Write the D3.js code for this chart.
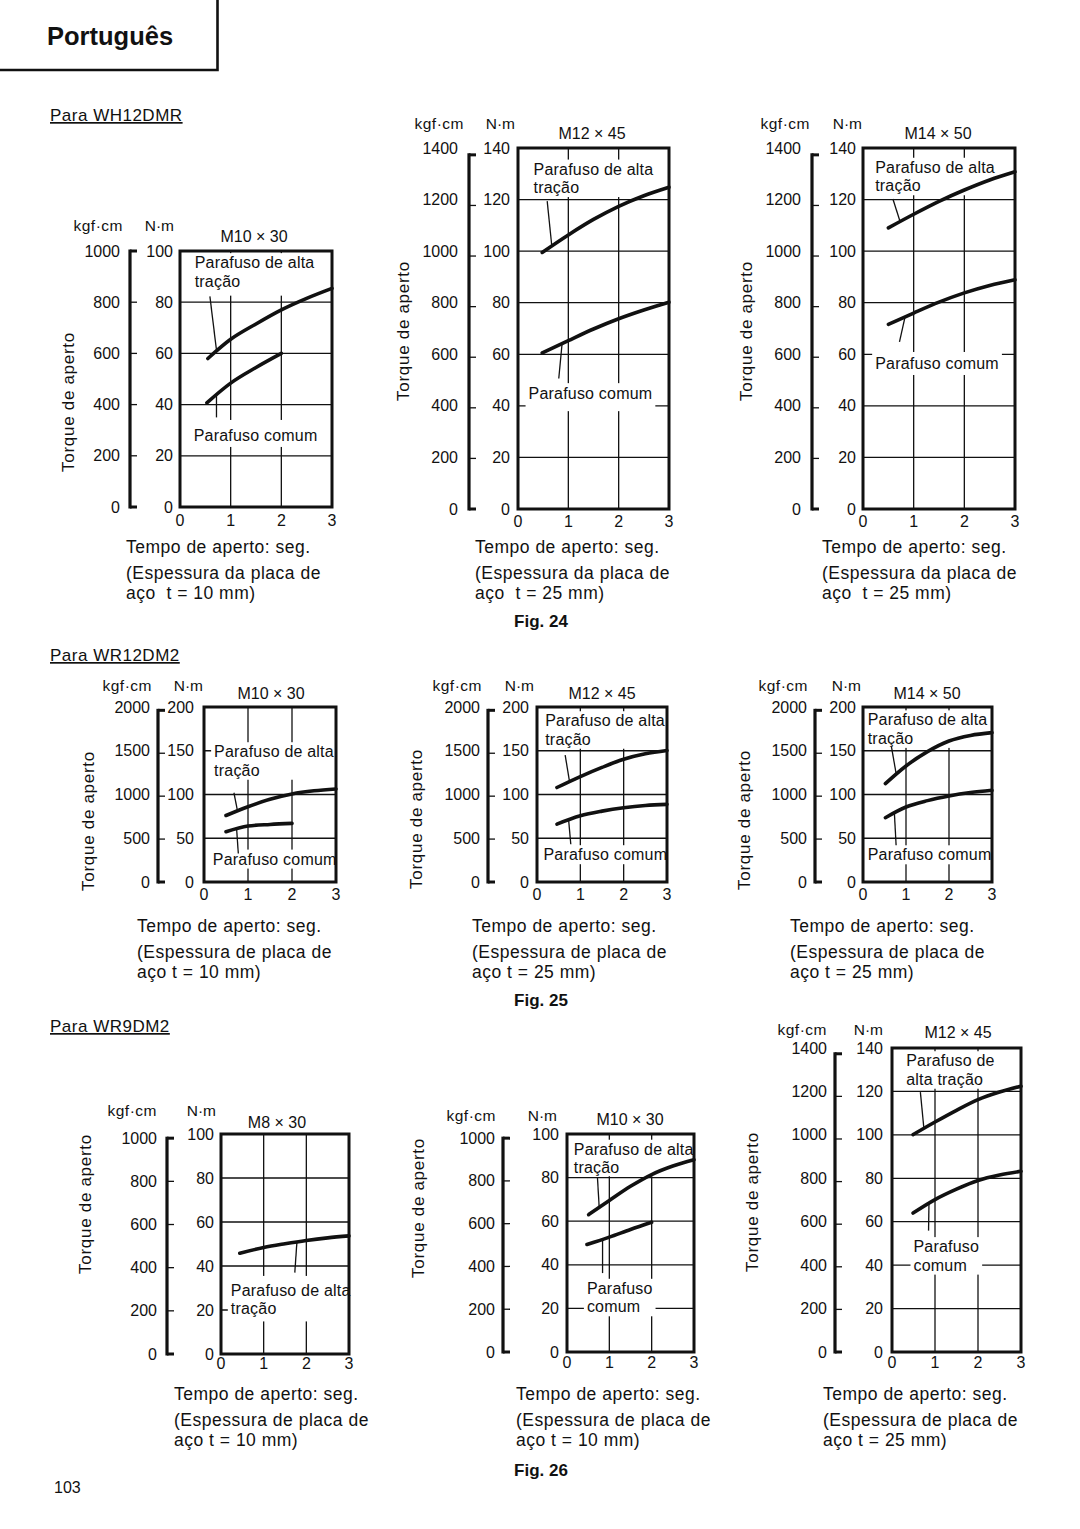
<!DOCTYPE html>
<html><head><meta charset="utf-8">
<script src="https://cdn.jsdelivr.net/npm/d3@7"></script>
<style>
html,body{margin:0;padding:0;background:#fff;}
svg{display:block;font-family:"Liberation Sans",Arial,Helvetica,sans-serif;}
text{white-space:pre;}
</style></head><body>
<svg id="page" width="1080" height="1529"></svg>
<script>
// ---------------- DATA ----------------
const xTicks = [0, 1, 2, 3];
const nmTicks100 = [0, 20, 40, 60, 80, 100];
const kgfTicks1000 = [0, 200, 400, 600, 800, 1000];
const nmTicks140 = [0, 20, 40, 60, 80, 100, 120, 140];
const kgfTicks1400 = [0, 200, 400, 600, 800, 1000, 1200, 1400];
const nmTicks200 = [0, 50, 100, 150, 200];
const kgfTicks2000 = [0, 500, 1000, 1500, 2000];

const boltTitles = ["M10 \u00d7 30", "M12 \u00d7 45", "M14 \u00d7 50",
                    "M10 \u00d7 30", "M12 \u00d7 45", "M14 \u00d7 50",
                    "M8 \u00d7 30", "M10 \u00d7 30", "M12 \u00d7 45"];

// Fig. 24 (WH12DMR) — [seconds, N·m]
const f24_m10_alta  = [[0.55,58],[1,65.5],[1.5,71.5],[2,77],[2.5,81.5],[3,85.4]];
const f24_m10_comum = [[0.53,40.7],[1,48.4],[1.5,54.5],[2,60]];
const f24_m12_alta  = [[0.48,99.5],[1,106.3],[1.5,112.3],[2,117.4],[2.5,121.5],[3,124.8]];
const f24_m12_comum = [[0.48,60.5],[1,65.3],[1.5,69.8],[2,73.8],[2.5,77.2],[3,80.2]];
const f24_m14_alta  = [[0.5,109],[1,114.3],[1.5,119.3],[2,123.7],[2.5,127.6],[3,130.8]];
const f24_m14_comum = [[0.5,71.6],[1,76],[1.5,80.2],[2,83.8],[2.5,86.7],[3,88.9]];
// Fig. 25 (WR12DM2)
const f25_m10_alta  = [[0.5,76],[1,86],[1.5,94.5],[2,100.6],[2.5,104.2],[3,106.3]];
const f25_m10_comum = [[0.5,57.4],[1,63.9],[1.5,65.8],[2,67]];
const f25_m12_alta  = [[0.46,108],[1,120.5],[1.5,131],[2,140.3],[2.5,146.5],[3,150.3]];
const f25_m12_comum = [[0.46,66.2],[1,75.7],[1.5,81],[2,84.9],[2.5,87.5],[3,88.7]];
const f25_m14_alta  = [[0.52,112.4],[1,132.6],[1.5,149],[2,161.1],[2.5,167.5],[3,170.7]];
const f25_m14_comum = [[0.52,73.5],[1,85.7],[1.5,93],[2,98.3],[2.5,102.2],[3,104.8]];
// Fig. 26 (WR9DM2)
const f26_m8_alta   = [[0.44,45.8],[1,48.4],[1.5,50.1],[2,51.6],[2.5,52.8],[3,53.7]];
const f26_m10_alta  = [[0.51,63],[1,69.5],[1.5,76],[2,81.4],[2.5,85.3],[3,88.2]];
const f26_m10_comum = [[0.47,49.3],[1,52.7],[1.5,56.2],[2,59.5]];
const f26_m12_alta  = [[0.49,100.1],[1,105.9],[1.5,111.3],[2,116.2],[2.5,119.7],[3,122.4]];
const f26_m12_comum = [[0.49,64],[1,70.2],[1.5,75],[2,79],[2.5,81.5],[3,83.2]];

const lblAlta1 = ["Parafuso de alta", "tra\u00e7\u00e3o"];
const lblAlta2 = ["Parafuso de", "alta tra\u00e7\u00e3o"];
const lblComum1 = ["Parafuso comum"];
const lblComum2 = ["Parafuso", "comum"];

const cap24_10 = ["Tempo de aperto: seg.", "(Espessura da placa de", "a\u00e7o  t = 10 mm)"];
const cap24_25 = ["Tempo de aperto: seg.", "(Espessura da placa de", "a\u00e7o  t = 25 mm)"];
const cap25_10 = ["Tempo de aperto: seg.", "(Espessura de placa de", "a\u00e7o t = 10 mm)"];
const cap25_25 = ["Tempo de aperto: seg.", "(Espessura de placa de", "a\u00e7o t = 25 mm)"];

const sectionHeads = ["Para WH12DMR", "Para WR12DM2", "Para WR9DM2"];
const figLabels = ["Fig. 24", "Fig. 25", "Fig. 26"];

// ---------------- LAYOUT ----------------
const layout = [
 {box:[180,332,251,507], yMax:100, nm:nmTicks100, kgf:kgfTicks1000, tickConv:0.1, labelConv:0.1,
  barX:130, kgfR:120, nmR:173, unitsY:231, kgfUnitR:123, nmUnitR:174, titleX:254, titleY:242, xlOff:19,
  ytitle:[68,402], cap:[126,553], capLines:cap24_10, title:boltTitles[0],
  series:[f24_m10_alta, f24_m10_comum],
  notes:[{lines:lblAlta1, x:0.29, y:93.3, pad:[15,9], leader:[0.59,82.3,0.72,61.3]},
         {lines:lblComum1, x:0.27, y:25.8, pad:[21,6], leader:[0.72,35,0.72,43.8]}]},
 {box:[518,669,148,509], yMax:140, nm:nmTicks140, kgf:kgfTicks1400, tickConv:0.0981, labelConv:0.1,
  barX:469, kgfR:458, nmR:510, unitsY:129, kgfUnitR:464, nmUnitR:515, titleX:592, titleY:139, xlOff:18,
  ytitle:[403,331], cap:[475,553], capLines:cap24_25, title:boltTitles[1],
  series:[f24_m12_alta, f24_m12_comum],
  notes:[{lines:lblAlta1, x:0.31, y:129.7, pad:[15,4], leader:[0.58,119.4,0.67,102.3]},
         {lines:lblComum1, x:0.21, y:42.6, pad:[16,12], leader:[0.81,50.6,0.876,64.2]}]},
 {box:[863,1015,148,509], yMax:140, nm:nmTicks140, kgf:kgfTicks1400, tickConv:0.0981, labelConv:0.1,
  barX:812, kgfR:801, nmR:856, unitsY:129, kgfUnitR:810, nmUnitR:862, titleX:938, titleY:139, xlOff:18,
  ytitle:[746,331], cap:[822,553], capLines:cap24_25, title:boltTitles[2],
  series:[f24_m14_alta, f24_m14_comum],
  notes:[{lines:lblAlta1, x:0.24, y:130.4, pad:[15,4], leader:[0.59,120.2,0.73,111.6]},
         {lines:lblComum1, x:0.24, y:54.3, pad:[17,6], leader:[0.72,64.8,0.83,74.5]}]},
 {box:[204,336,707,882], yMax:200, nm:nmTicks200, kgf:kgfTicks2000, tickConv:0.0981, labelConv:0.1,
  barX:158, kgfR:150, nmR:194, unitsY:691, kgfUnitR:152, nmUnitR:203, titleX:271, titleY:699, xlOff:18,
  ytitle:[88,821], cap:[137,932], capLines:cap25_10, title:boltTitles[3],
  series:[f25_m10_alta, f25_m10_comum],
  notes:[{lines:lblAlta1, x:0.23, y:142.6, pad:[15,4], leader:[0.68,102,0.76,81.5]},
         {lines:lblComum1, x:0.2, y:19.9, pad:[15,4], leader:[0.78,32.5,0.74,61.5]}]},
 {box:[537,667,707,882], yMax:200, nm:nmTicks200, kgf:kgfTicks2000, tickConv:0.0981, labelConv:0.1,
  barX:488, kgfR:480, nmR:529, unitsY:691, kgfUnitR:482, nmUnitR:534, titleX:602, titleY:699, xlOff:18,
  ytitle:[416,819], cap:[472,932], capLines:cap25_25, title:boltTitles[4],
  series:[f25_m12_alta, f25_m12_comum],
  notes:[{lines:lblAlta1, x:0.19, y:178, pad:[15,4], leader:[0.65,145,0.75,115]},
         {lines:lblComum1, x:0.15, y:24.9, pad:[15,4], leader:[0.78,43.2,0.73,70.7]}]},
 {box:[863,992,707,882], yMax:200, nm:nmTicks200, kgf:kgfTicks2000, tickConv:0.0981, labelConv:0.1,
  barX:815, kgfR:807, nmR:856, unitsY:691, kgfUnitR:808, nmUnitR:861, titleX:927, titleY:699, xlOff:18,
  ytitle:[744,820], cap:[790,932], capLines:cap25_25, title:boltTitles[5],
  series:[f25_m14_alta, f25_m14_comum],
  notes:[{lines:lblAlta1, x:0.11, y:179, pad:[15,4], leader:[0.66,155,0.77,124]},
         {lines:lblComum1, x:0.11, y:24.8, pad:[15,4], leader:[0.77,41.9,0.73,78.5]}]},
 {box:[221,349,1134,1354], yMax:100, nm:nmTicks100, kgf:kgfTicks1000, tickConv:0.0981, labelConv:0.0981,
  barX:167, kgfR:157, nmR:214, unitsY:1116, kgfUnitR:157, nmUnitR:216, titleX:277, titleY:1128, xlOff:15,
  ytitle:[85,1204], cap:[174,1400], capLines:cap25_10, title:boltTitles[6],
  series:[f26_m8_alta],
  notes:[{lines:lblAlta1, x:0.23, y:26.4, pad:[20,7], leader:[1.73,37,1.78,51.2]}]},
 {box:[567,694,1134,1352], yMax:100, nm:nmTicks100, kgf:kgfTicks1000, tickConv:0.0981, labelConv:0.0981,
  barX:503, kgfR:495, nmR:559, unitsY:1121, kgfUnitR:496, nmUnitR:557, titleX:630, titleY:1125, xlOff:16,
  ytitle:[418,1208], cap:[516,1400], capLines:cap25_10, title:boltTitles[7],
  series:[f26_m10_alta, f26_m10_comum],
  notes:[{lines:lblAlta1, x:0.16, y:90.5, pad:[15,3], leader:[0.72,79.8,0.76,66.5]},
         {lines:lblComum2, x:0.47, y:26.7, pad:[15,4], leader:[0.84,36.2,0.84,51.6]}]},
 {box:[892,1021,1048,1352], yMax:140, nm:nmTicks140, kgf:kgfTicks1400, tickConv:0.0981, labelConv:0.1,
  barX:835, kgfR:827, nmR:883, unitsY:1035, kgfUnitR:827, nmUnitR:883, titleX:958, titleY:1038, xlOff:16,
  ytitle:[752,1202], cap:[823,1400], capLines:cap25_25, title:boltTitles[8],
  series:[f26_m12_alta, f26_m12_comum],
  notes:[{lines:lblAlta2, x:0.33, y:131.6, pad:[15,4], leader:[0.66,119.7,0.74,103.3]},
         {lines:lblComum2, x:0.5, y:46, pad:[15,4], leader:[0.85,55.9,0.86,68.5]}]}
];

// ---------------- DRAW ----------------
const INK = "#111";
const svg = d3.select("#page");
svg.append("rect").attr("width",1080).attr("height",1529).attr("fill","#fff");

// header box
svg.append("path").attr("d","M0,70 H217.5 V0").attr("fill","none").attr("stroke",INK).attr("stroke-width",2.6);
svg.append("text").attr("x",47).attr("y",45).attr("font-size",25.5).attr("font-weight","bold").attr("fill",INK).text("Portugu\u00eas");

const headY = [121, 661, 1032];
sectionHeads.forEach((s,i)=>{
  svg.append("text").attr("x",50).attr("y",headY[i]).attr("font-size",17).attr("letter-spacing",0.5)
    .attr("text-decoration","underline").attr("fill",INK).text(s);
});
const figY = [627, 1006, 1476];
figLabels.forEach((s,i)=>{
  svg.append("text").attr("x",541).attr("y",figY[i]).attr("text-anchor","middle").attr("font-size",17)
    .attr("font-weight","bold").attr("fill",INK).text(s);
});
svg.append("text").attr("x",54).attr("y",1493).attr("font-size",16).attr("fill",INK).text("103");

const line = (x,y) => d3.line().x(d=>x(d[0])).y(d=>y(d[1])).curve(d3.curveMonotoneX);

layout.forEach(c=>{
  const g = svg.append("g");
  const x = d3.scaleLinear().domain([0,3]).range([c.box[0], c.box[1]]);
  const y = d3.scaleLinear().domain([0,c.yMax]).range([c.box[3], c.box[2]]);

  // grid
  g.selectAll(null).data(c.nm.filter(v=>v>0 && v<c.yMax)).join("line")
    .attr("x1",x(0)).attr("x2",x(3)).attr("y1",d=>y(d)).attr("y2",d=>y(d))
    .attr("stroke",INK).attr("stroke-width",1.3);
  g.selectAll(null).data(xTicks.filter(v=>v>0 && v<3)).join("line")
    .attr("x1",d=>x(d)).attr("x2",d=>x(d)).attr("y1",y(0)).attr("y2",y(c.yMax))
    .attr("stroke",INK).attr("stroke-width",1.3);

  // labels with white backgrounds
  c.notes.forEach(n=>{
    const tg = g.append("g");
    const bx = x(n.x), by = y(n.y);
    const t = tg.append("text").attr("font-size",16).attr("letter-spacing",0.2).attr("fill",INK);
    n.lines.forEach((s,i)=> t.append("tspan").attr("x",bx).attr("y",by + i*18.5).text(s));
    const bb = t.node().getBBox();
    const lastY = by + (n.lines.length-1)*18.5;
    tg.insert("rect","text").attr("x",bb.x-3).attr("y",by-n.pad[0])
      .attr("width",bb.width+6).attr("height",(lastY+n.pad[1])-(by-n.pad[0])).attr("fill","#fff");
  });
  // leaders
  c.notes.forEach(n=>{
    g.append("line").attr("x1",x(n.leader[0])).attr("y1",y(n.leader[1]))
      .attr("x2",x(n.leader[2])).attr("y2",y(n.leader[3]))
      .attr("stroke",INK).attr("stroke-width",1.3);
  });
  // curves
  c.series.forEach(s=>{
    g.append("path").attr("d",line(x,y)(s)).attr("fill","none").attr("stroke",INK)
      .attr("stroke-width",3.6).attr("stroke-linecap","round");
  });
  // box
  g.append("rect").attr("x",x(0)).attr("y",y(c.yMax)).attr("width",x(3)-x(0)).attr("height",y(0)-y(c.yMax))
    .attr("fill","none").attr("stroke",INK).attr("stroke-width",3);

  // N·m labels
  g.selectAll(null).data(c.nm).join("text")
    .attr("x",c.nmR).attr("y",d=>y(d)).attr("text-anchor","end").attr("dominant-baseline","central")
    .attr("font-size",16).attr("fill",INK).text(d=>d);

  // kgf·cm bracket
  const kTop = c.kgf[c.kgf.length-1];
  const ky = v => y(v*c.tickConv);
  g.append("line").attr("x1",c.barX).attr("x2",c.barX).attr("y1",ky(kTop)-1.5).attr("y2",ky(0)+1.5)
    .attr("stroke",INK).attr("stroke-width",3.2);
  g.selectAll(null).data(c.kgf).join("line")
    .attr("x1",c.barX).attr("x2",c.barX+7).attr("y1",d=>ky(d)).attr("y2",d=>ky(d))
    .attr("stroke",INK).attr("stroke-width",d=>(d===0||d===kTop)?3:1.3);
  g.selectAll(null).data(c.kgf).join("text")
    .attr("x",c.kgfR).attr("y",d=>y(d*c.labelConv)).attr("text-anchor","end").attr("dominant-baseline","central")
    .attr("font-size",16).attr("fill",INK).text(d=>d);

  // x labels
  g.selectAll(null).data(xTicks).join("text")
    .attr("x",d=>x(d)).attr("y",y(0)+c.xlOff).attr("text-anchor","middle")
    .attr("font-size",16).attr("fill",INK).text(d=>d);

  // units + title
  g.append("text").attr("x",c.kgfUnitR).attr("y",c.unitsY).attr("text-anchor","end")
    .attr("font-size",15.5).attr("letter-spacing",0.5).attr("fill",INK).text("kgf\u00b7cm");
  g.append("text").attr("x",c.nmUnitR).attr("y",c.unitsY).attr("text-anchor","end")
    .attr("font-size",15.5).attr("fill",INK).text("N\u00b7m");
  g.append("text").attr("x",c.titleX).attr("y",c.titleY).attr("text-anchor","middle")
    .attr("font-size",16).attr("fill",INK).text(c.title);

  // y title
  g.append("text").attr("transform",`translate(${c.ytitle[0]},${c.ytitle[1]}) rotate(-90)`)
    .attr("text-anchor","middle").attr("dominant-baseline","central")
    .attr("font-size",17).attr("letter-spacing",0.7).attr("fill",INK).text("Torque de aperto");

  // caption
  const capDy = [0, 26, 45.5];
  c.capLines.forEach((s,i)=>{
    g.append("text").attr("x",c.cap[0]).attr("y",c.cap[1]+capDy[i])
      .attr("font-size",17.5).attr("letter-spacing",0.5).attr("fill",INK).text(s);
  });
});
</script></body></html>
